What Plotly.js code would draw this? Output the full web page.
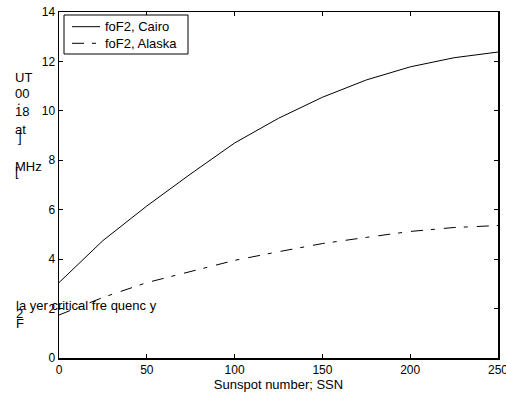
<!DOCTYPE html>
<html>
<head>
<meta charset="utf-8">
<script src="https://cdn.plot.ly/plotly-3.0.1.min.js"></script>
<style>html,body{margin:0;padding:0;background:#fff;overflow:hidden;}#chart{width:506px;height:396px;}</style>
</head>
<body>
<div id="chart"></div>
<script>
const ssn = [0, 25, 50, 75, 100, 125, 150, 175, 200, 225, 250];
const foF2Cairo = [3.05, 4.75, 6.15, 7.45, 8.7, 9.7, 10.55, 11.25, 11.78, 12.15, 12.38];
const foF2Alaska = [1.74, 2.45, 3.05, 3.5, 3.95, 4.3, 4.63, 4.88, 5.12, 5.28, 5.36];
const xTicks = [0, 50, 100, 150, 200, 250];
const yTicks = [0, 2, 4, 6, 8, 10, 12, 14];
const seriesNames = ['foF2, Cairo', 'foF2, Alaska'];
const seriesDash = ['solid', '12px,8px,4px,9px'];
const xTitle = 'Sunspot number; SSN';
const yLabelFragments = ['UT', '00', '.', '18', 'at', ']', 'MHz', '[', 'la yer critical fre quenc y', '2', 'F'];

const FF = 'Liberation Sans, Arial, sans-serif';
const tickFont = {family: FF, size: 12, color: '#000'};
const textFont = {family: FF, size: 13, color: '#000'};

// plot area in pixels
const L = 59, T = 12, W = 439, H = 346;
const px = v => (v - L) / W;
const py = v => 1 - (v - T) / H;

const traces = [
  {x: ssn, y: foF2Cairo, name: seriesNames[0], mode: 'lines',
   line: {color: '#000', width: 1, dash: seriesDash[0]}},
  {x: ssn, y: foF2Alaska, name: seriesNames[1], mode: 'lines',
   line: {color: '#000', width: 1, dash: seriesDash[1]}}
];

const fragY = [78, 93, 100, 112, 129, 137, 166, 171, 305, 313, 323];
const fragX = [13, 13, 15, 13, 13, 16, 13, 13, 14, 14, 14];
const annotations = yLabelFragments.map((t, i) => ({
  text: t, xref: 'paper', yref: 'paper', showarrow: false,
  x: px(fragX[i]), y: py(fragY[i]),
  xanchor: 'left', yanchor: 'middle', font: textFont
}));

// custom legend (box, samples, texts)
const legRows = [26.7, 43.3];
const shapes = [
  {type: 'rect', xref: 'paper', yref: 'paper', x0: px(64), x1: px(188), y0: py(15), y1: py(54),
   line: {color: '#000', width: 1}, fillcolor: '#fff', layer: 'above'}
];
seriesNames.forEach((n, i) => {
  shapes.push({type: 'line', xref: 'paper', yref: 'paper', x0: px(72), x1: px(100),
    y0: py(legRows[i]), y1: py(legRows[i]), line: {color: '#000', width: 1, dash: seriesDash[i]}, layer: 'above'});
  annotations.push({text: n, xref: 'paper', yref: 'paper', showarrow: false,
    x: px(103), y: py(legRows[i]), xanchor: 'left', yanchor: 'middle', font: textFont});
});

const layout = {
  width: 506, height: 396,
  margin: {l: L, r: 506 - L - W, t: T, b: 396 - T - H},
  paper_bgcolor: '#fff', plot_bgcolor: '#fff',
  font: tickFont,
  showlegend: false,
  xaxis: {range: [0, 250], tickvals: xTicks, ticktext: xTicks.map(String),
          ticks: 'inside', ticklen: 4, tickcolor: '#000', showgrid: false, zeroline: false,
          showline: true, linecolor: '#000', linewidth: 1.5, mirror: 'ticks',
          ticklabeloverflow: 'allow',
          title: {text: xTitle, font: textFont, standoff: 3}, tickfont: tickFont},
  yaxis: {range: [0, 14], tickvals: yTicks, ticktext: yTicks.map(String),
          ticks: 'inside', ticklen: 4, tickcolor: '#000', showgrid: false, zeroline: false,
          showline: true, linecolor: '#000', linewidth: 1.5, mirror: 'ticks',
          ticklabeloverflow: 'allow', tickfont: tickFont},
  shapes: shapes,
  annotations: annotations
};

Plotly.newPlot('chart', traces, layout, {displayModeBar: false, staticPlot: true});
</script>
</body>
</html>
